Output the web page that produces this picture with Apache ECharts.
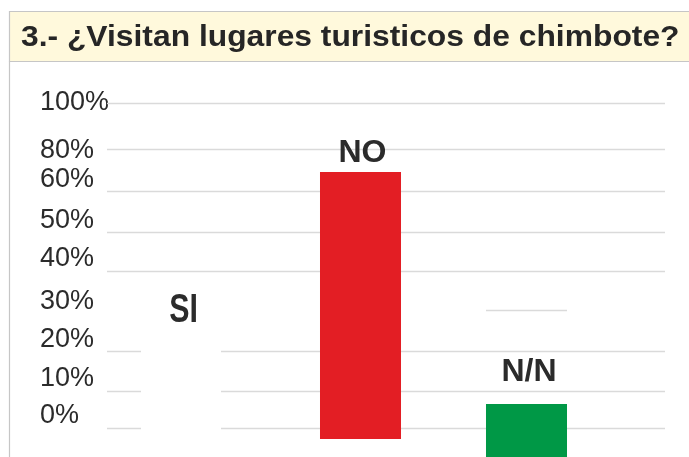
<!DOCTYPE html>
<html>
<head>
<meta charset="utf-8">
<script src="https://cdn.jsdelivr.net/npm/echarts@6/dist/echarts.min.js"></script>
<style>
html,body{margin:0;padding:0;background:#fff;}
#c{width:689px;height:457px;}
</style>
</head>
<body>
<div id="c"></div>
<script>
// ---- data ----
const titleText = '3.- ¿Visitan lugares turisticos de chimbote?';
const categories = ['SI', 'NO', 'N/N'];
const barTops = [0, 78.8, 7.4];
const barBases = [0, -3.4, -9];
const tickLabels = ['100%', '80%', '60%', '50%', '40%', '30%', '20%', '10%', '0%'];
const tickLabelValues = [100, 85.5, 76.5, 63.9, 52.2, 39, 27.1, 15.3, 3.7];
const gridValues = [100, 85.8, 72.9, 60.2, 48.3, 23.5, 11.3, 0];
const guideValue = 36.3; // short guide line over the N/N column

// ---- styles ----
const barColors = ['#E31E24', '#E31E24', '#009846'];
const labelDx = [-11, 2, 2.5];
const labelDy = [-117, -19, -32];
const labelFonts = [
  'bold 41px "Liberation Sans", Arial, sans-serif',
  'bold 32px "Liberation Sans", Arial, sans-serif',
  'bold 32px "Liberation Sans", Arial, sans-serif'
];
const labelScaleX = [0.74, 1, 1];

const chart = echarts.init(document.getElementById('c'), null, {renderer: 'canvas'});

const barData = categories.map((c, i) => [i, barBases[i], barTops[i]]);

const option = {
  animation: false,
  backgroundColor: '#fff',
  graphic: [
    {type: 'rect', z: -10, silent: true,
     shape: {x: 9.5, y: 11.5, width: 700, height: 50},
     style: {fill: '#FFF9DC', stroke: '#c6c6c6', lineWidth: 1.2}},
    {type: 'line', z: -10, silent: true,
     shape: {x1: 9.5, y1: 61.5, x2: 9.5, y2: 457},
     style: {stroke: '#c6c6c6', lineWidth: 1.2}},
    {type: 'text', z: 10, silent: true, x: 21, y: 38, scaleX: 1.06,
     style: {text: titleText, font: 'bold 30px "Liberation Sans", Arial, sans-serif',
             fill: '#262626', textAlign: 'left', textVerticalAlign: 'middle',
             align: 'left', verticalAlign: 'middle'}}
  ],
  grid: [
    {left: 107, right: 24, top: 103, bottom: 29, outerBoundsMode: 'none', containLabel: false},
    {left: 111.5, right: 79.5, top: 103, bottom: 29, outerBoundsMode: 'none', containLabel: false}
  ],
  xAxis: [
    {type: 'category', gridIndex: 0, data: categories, show: false},
    {type: 'category', gridIndex: 1, data: categories, show: false}
  ],
  yAxis: [
    {type: 'value', gridIndex: 0, min: 0, max: 100,
     axisLine: {show: false}, axisTick: {show: false}, splitLine: {show: false},
     axisLabel: {
       customValues: tickLabelValues,
       formatter: function (v) {
         let k = tickLabelValues.indexOf(v);
         if (k < 0) {
           let best = 0, d = Infinity;
           tickLabelValues.forEach((t, j) => { if (Math.abs(t - v) < d) { d = Math.abs(t - v); best = j; } });
           k = best;
         }
         return tickLabels[k];
       },
       align: 'left', margin: 67, fontSize: 27,
       fontFamily: '"Liberation Sans", Arial, sans-serif',
       color: '#2b2b2b', hideOverlap: false
     }},
    {type: 'value', gridIndex: 1, min: 0, max: 100, show: false, splitLine: {show: false}}
  ],
  series: [
    {
      type: 'line', xAxisIndex: 0, yAxisIndex: 0, data: [], z: 1, silent: true,
      markLine: {
        silent: true, symbol: ['none', 'none'], label: {show: false},
        lineStyle: {color: '#dadada', width: 1.3, type: 'solid'},
        data: gridValues.map(v => ({yAxis: v}))
      }
    },
    {
      type: 'custom', xAxisIndex: 1, yAxisIndex: 1, z: 5, clip: false,
      data: [[2, guideValue]],
      renderItem: function (params, api) {
        const i = api.value(0);
        const p = api.coord([i, api.value(1)]);
        const w = api.size([1, 0])[0] * 0.488;
        return {type: 'line', shape: {x1: p[0] - w / 2, y1: Math.round(p[1]) + 0.5, x2: p[0] + w / 2, y2: Math.round(p[1]) + 0.5},
                style: {stroke: '#dadada', lineWidth: 1.3}};
      }
    },
    {
      type: 'custom', xAxisIndex: 1, yAxisIndex: 1, z: 10, clip: false,
      encode: {x: 0, y: [1, 2]},
      data: barData,
      renderItem: function (params, api) {
        const i = api.value(0);
        const lo = api.value(1), hi = api.value(2);
        const pTop = api.coord([i, hi]);
        const pBot = api.coord([i, lo]);
        const w = api.size([1, 0])[0] * 0.488;
        const children = [];
        const lx = pTop[0] + labelDx[i];
        const ly = pTop[1] + labelDy[i];
        if (hi > lo) {
          children.push({type: 'rect',
            shape: {x: pTop[0] - w / 2, y: pTop[1], width: w, height: pBot[1] - pTop[1]},
            style: {fill: barColors[i]}});
        } else {
          // white plate behind the label (hides grid lines there, as in the reference)
          children.push({type: 'rect',
            shape: {x: lx - 42.5, y: ly - 26, width: 80, height: 160},
            style: {fill: '#ffffff'}});
        }
        children.push({type: 'text', x: lx, y: ly, scaleX: labelScaleX[i],
          style: {text: categories[i], font: labelFonts[i], fill: '#2b2b2b',
                  align: 'center', verticalAlign: 'middle',
                  textAlign: 'center', textVerticalAlign: 'middle'}});
        return {type: 'group', children: children};
      }
    }
  ]
};
chart.setOption(option);
</script>
</body>
</html>
